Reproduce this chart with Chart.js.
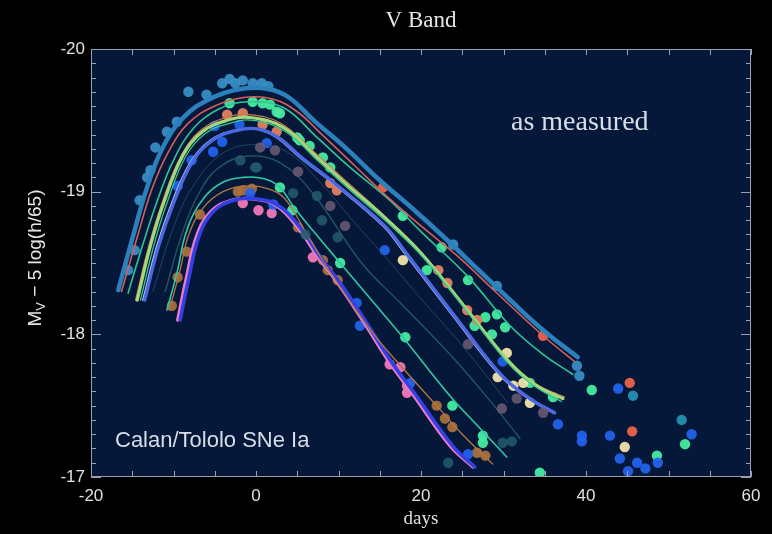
<!DOCTYPE html>
<html>
<head>
<meta charset="utf-8">
<title>V Band</title>
<script src="https://cdn.jsdelivr.net/npm/chart.js@4.4.1/dist/chart.umd.min.js"></script>
<style>
    html, body { margin: 0; padding: 0; background: #000; }
    canvas { display: block; }
</style>
</head>
<body>
<canvas id="lightCurves" width="772" height="534"></canvas>
<script>
// --- Axis ticks ---
const xTicks = [-20, 0, 20, 40, 60];
const yTicks = [-20, -19, -18, -17];

// --- Template curves (days since max, magnitude) ---
const blueDays = [-16.7, -14.9, -13.2, -11.3, -8.8, -5.6, -1.9, 1.5, 4, 7, 11, 15, 19, 23, 27, 31, 35, 39];
const blueMags = [-18.31, -18.69, -19.03, -19.31, -19.52, -19.65, -19.72, -19.72, -19.66, -19.50, -19.30, -19.08, -18.88, -18.67, -18.45, -18.23, -18.02, -17.84];

const redDays = [-16.3, -14.3, -12.6, -10.6, -8.2, -5, -1.5, 2, 5, 8, 12, 16, 20, 24.4, 29, 34.8, 38.6];
const redMags = [-18.30, -18.70, -19.02, -19.28, -19.48, -19.60, -19.66, -19.65, -19.56, -19.40, -19.18, -18.96, -18.76, -18.55, -18.30, -17.99, -17.81];

const tealDays = [-15.5, -13.6, -12.0, -10, -7.5, -4.5, -1, 3.3, 7.4, 11.4, 16.2, 20, 25.6, 30.8, 35, 38.4];
const tealMags = [-18.29, -18.65, -18.93, -19.22, -19.45, -19.58, -19.63, -19.59, -19.38, -19.17, -18.94, -18.72, -18.41, -18.06, -17.85, -17.72];

const limeDays = [-14.4, -12.8, -11.2, -8.9, -6.5, -3.5, -0.7, 3.3, 7.4, 11.4, 15.4, 20, 25.6, 30.8, 34, 37.2];
const limeMags = [-18.24, -18.62, -18.92, -19.25, -19.42, -19.50, -19.52, -19.45, -19.24, -19.03, -18.83, -18.57, -18.17, -17.80, -17.64, -17.55];

const orangeDays = [-14.6, -13, -11.4, -9.1, -6.7, -3.7, -0.9, 3, 7, 11, 15, 19.5, 25, 30.5, 34, 37.4];
const orangeMags = [-18.24, -18.62, -18.92, -19.25, -19.43, -19.52, -19.54, -19.48, -19.28, -19.07, -18.86, -18.60, -18.21, -17.82, -17.65, -17.56];

const mintDays = [-14, -12.4, -10.8, -8.5, -6.1, -3.1, -0.3, 3.6, 7.8, 11.8, 15.8, 20.4, 26, 31, 34.2, 37];
const mintMags = [-18.24, -18.62, -18.92, -19.25, -19.41, -19.48, -19.50, -19.42, -19.20, -18.99, -18.79, -18.53, -18.13, -17.77, -17.62, -17.53];

const lavenderDays = [-13.7, -12, -10.2, -8, -5.5, -2.5, 0, 2.5, 5.3, 9.3, 15.4, 18, 24, 29.6, 33, 36];
const lavenderMags = [-18.24, -18.62, -18.92, -19.20, -19.36, -19.43, -19.44, -19.38, -19.24, -19.06, -18.76, -18.57, -18.12, -17.71, -17.55, -17.45];

const faintDays = [-11, -9, -7, -4.5, -1, 3, 7, 12.8, 17.5, 23.5, 28, 32];
const faintMags = [-18.30, -18.70, -18.98, -19.17, -19.25, -19.20, -18.98, -18.50, -18.22, -17.86, -17.56, -17.27];

const faint2Days = [-12.5, -10, -7.5, -4, 0, 4, 8, 12, 16, 20, 25, 30.5];
const faint2Mags = [-18.30, -18.75, -19.05, -19.27, -19.33, -19.27, -19.05, -18.78, -18.52, -18.25, -17.92, -17.52];

const lowTealDays = [-10.8, -9.5, -8.6, -7, -4.5, -1.5, 1, 2.9, 4.5, 7, 10.2, 14, 17.8, 23.5, 27, 30.4];
const lowTealMags = [-18.17, -18.45, -18.69, -18.90, -19.05, -19.10, -19.09, -19.03, -18.90, -18.72, -18.50, -18.24, -17.98, -17.57, -17.35, -17.14];

const brownDays = [-10.5, -9.2, -8.2, -6.5, -4, -1, 1.5, 3.5, 6, 8.6, 14, 18, 21.9, 25, 28.7];
const brownMags = [-18.17, -18.45, -18.69, -18.88, -19.00, -19.04, -19.02, -18.95, -18.72, -18.47, -18.02, -17.75, -17.50, -17.30, -17.09];

const pinkDays = [-9.5, -8.5, -7.2, -5.5, -3, -0.5, 2.5, 5.3, 7.4, 10, 13, 16.2, 19, 23.5, 26.3];
const pinkMags = [-18.10, -18.38, -18.69, -18.86, -18.94, -18.95, -18.90, -18.73, -18.55, -18.35, -18.09, -17.80, -17.58, -17.22, -17.07];

const pinkEdgeDays = [-9.2, -8.2, -6.9, -5.2, -2.7, -0.2, 2.8, 5.6, 7.7, 10.3, 13.3, 16.5, 19.3, 23.8, 26.5];
const pinkEdgeMags = [-18.10, -18.38, -18.69, -18.86, -18.94, -18.95, -18.90, -18.73, -18.55, -18.35, -18.09, -17.80, -17.58, -17.22, -17.07];

// --- Photometry points [day, mag] ---
const steelDots = [[-15.5, -18.45], [-14.7, -18.59], [-14.1, -18.94], [-13.2, -19.10], [-12.8, -19.15], [-12.2, -19.31],
    [-10.8, -19.42], [-9.6, -19.49], [-8.2, -19.70], [-6, -19.68], [-4.1, -19.76], [-3.2, -19.79], [-2.5, -19.76],
    [-1.6, -19.78], [-0.4, -19.76], [0.7, -19.76], [1.5, -19.74], [23.9, -18.63], [29.2, -18.34], [38.9, -17.78], [39.2, -17.71]];
const cyanDots = [[45.7, -17.57], [51.6, -17.40]];
const redDots = [[15.4, -19.03], [34.8, -17.99], [45.3, -17.66], [45.6, -17.32]];
const salmonDots = [[-3.5, -19.54], [-1.6, -19.55], [0.8, -19.47], [2.5, -19.42], [9.0, -19.06], [9.8, -19.01],
    [22.1, -18.45], [23.2, -18.36], [25.6, -18.17], [26.8, -18.10]];
const greenDots = [[-3.2, -19.62], [-0.4, -19.63], [0.8, -19.62], [1.7, -19.61], [2.5, -19.56], [2.9, -19.55],
    [5.0, -19.38], [5.3, -19.36], [6.5, -19.32], [8.1, -19.24], [9.0, -19.17], [2.9, -19.03], [4.4, -18.87],
    [10.2, -18.50], [17.8, -18.83], [20.7, -18.45], [22.5, -18.61], [25.7, -18.38], [26.5, -18.06], [27.8, -18.12],
    [28.6, -18.00], [29.2, -18.14], [30.2, -18.05], [18.1, -17.98], [23.8, -17.50], [27.5, -17.29], [27.5, -17.24],
    [33.2, -17.66], [36, -17.56], [34.4, -17.03], [40.7, -17.61], [48.6, -17.15], [52, -17.23]];
const creamDots = [[17.8, -18.52], [29.3, -17.70], [30.4, -17.87], [31.2, -17.64], [32.4, -17.66], [33.2, -17.52], [44.7, -17.21]];
const royalDots = [[-9.5, -19.04], [-7.8, -19.22], [-5.2, -19.28], [-5, -19.46], [-4.1, -19.35], [-2, -19.47],
    [-0.7, -18.99], [1.3, -19.34], [2.1, -18.91], [12.2, -18.22], [12.6, -18.06], [15.6, -18.59], [18.7, -17.66],
    [25.7, -17.16], [29.9, -17.81], [36.6, -17.37], [39.5, -17.29], [39.5, -17.25], [42.9, -17.29], [43.9, -17.62],
    [44.1, -17.13], [45.1, -17.04], [46.2, -17.10], [47.2, -17.06], [48.7, -17.10], [52.8, -17.30]];
const mauveDots = [[0.5, -19.31], [2.3, -19.29], [5.1, -19.14], [9.0, -18.90], [10.8, -18.76], [25.7, -17.93],
    [29.8, -17.48], [31.6, -17.55], [34.8, -17.45]];
const darkTealDots = [[-1.9, -19.22], [-0.1, -19.17], [0.1, -19.17], [4.5, -18.99], [6, -18.70], [7.4, -18.97],
    [8, -18.80], [9.9, -18.68], [23.3, -17.10], [29.9, -17.24], [31, -17.25]];
const pinkDots = [[-1.6, -18.92], [0.3, -18.87], [1.9, -18.85], [6.9, -18.54], [16.2, -17.79], [17.5, -17.77],
    [18.3, -17.64], [18.3, -17.59]];
const brownDots = [[-10.2, -18.20], [-9.5, -18.40], [-8.4, -18.58], [-6.8, -18.84], [-2.2, -19.00], [-1.6, -19.01],
    [-0.5, -19.02], [5.1, -18.75], [8.1, -18.52], [8.7, -18.45], [9.9, -18.38], [21.9, -17.50], [22.9, -17.41],
    [23.8, -17.35], [26.8, -17.17], [27.8, -17.15]];

// --- Dataset builders ---
function curve(days, mags, color, width) {
    return {
        type: 'line',
        data: days.map((d, i) => ({ x: d, y: mags[i] })),
        borderColor: color,
        borderWidth: width,
        pointRadius: 0,
        fill: false,
        tension: 0.4,
        borderCapStyle: 'round',
        borderJoinStyle: 'round'
    };
}

function dots(points, color, radius) {
    return {
        type: 'scatter',
        data: points.map(p => ({ x: p[0], y: p[1] })),
        backgroundColor: color,
        borderWidth: 0,
        pointRadius: radius || 5.2
    };
}

// --- Frame, ticks and labels ---
const framePlugin = {
    id: 'framePlugin',
    beforeDraw(chart) {
        const { ctx, chartArea: a } = chart;
        ctx.save();
        ctx.fillStyle = '#000';
        ctx.fillRect(0, 0, chart.width, chart.height);
        ctx.fillStyle = '#05183a';
        ctx.fillRect(a.left, a.top, a.right - a.left, a.bottom - a.top);
        ctx.restore();
    },
    afterDatasetsDraw(chart) {
        const { ctx, chartArea: a, scales } = chart;
        ctx.save();
        ctx.strokeStyle = '#9aa2b2';
        ctx.lineWidth = 1;
        ctx.beginPath();
        for (let v = -20; v <= 60; v += 5) {
            const px = Math.round(scales.x.getPixelForValue(v)) + 0.5;
            ctx.moveTo(px, a.bottom); ctx.lineTo(px, a.bottom - 6);
            ctx.moveTo(px, a.top); ctx.lineTo(px, a.top + 6);
        }
        for (let i = 0; i <= 30; i++) {
            const py = Math.round(scales.y.getPixelForValue(-20 + i / 10)) + 0.5;
            const len = i % 10 === 0 ? 10 : 5;
            ctx.moveTo(a.left, py); ctx.lineTo(a.left + len, py);
            ctx.moveTo(a.right, py); ctx.lineTo(a.right - len, py);
        }
        ctx.stroke();
        ctx.strokeRect(a.left + 0.5, a.top + 0.5, a.right - a.left - 1, a.bottom - a.top - 1);
        ctx.restore();
    },
    afterDraw(chart) {
        const { ctx, chartArea: a } = chart;
        ctx.save();
        ctx.fillStyle = '#e6e6e6';
        ctx.textBaseline = 'alphabetic';

        // Title
        ctx.textAlign = 'center';
        ctx.font = '23px "Liberation Serif"';
        ctx.fillText('V Band', (a.left + a.right) / 2, 27);

        // Annotations
        ctx.textAlign = 'left';
        ctx.fillStyle = '#d8dde6';
        ctx.font = '28px "Liberation Serif"';
        ctx.fillText('as measured', 511, 130);
        ctx.font = '22px "Liberation Sans"';
        ctx.fillText('Calan/Tololo SNe Ia', 115, 447);

        // Y axis title with subscript
        ctx.fillStyle = '#e6e6e6';
        ctx.translate(41, 258);
        ctx.rotate(-Math.PI / 2);
        const big = '19px "Liberation Sans"', small = '13px "Liberation Sans"';
        const rest = ' \u2212 5 log(h/65)';
        ctx.font = big; const wM = ctx.measureText('M').width; const wR = ctx.measureText(rest).width;
        ctx.font = small; const wV = ctx.measureText('V').width;
        let x0 = -(wM + wV + wR) / 2;
        ctx.font = big; ctx.fillText('M', x0, 0);
        ctx.font = small; ctx.fillText('V', x0 + wM, 4);
        ctx.font = big; ctx.fillText(rest, x0 + wM + wV, 0);
        ctx.restore();
    }
};

// --- Chart ---
const ctx = document.getElementById('lightCurves').getContext('2d');
new Chart(ctx, {
    data: {
        datasets: [
            dots(darkTealDots, 'rgba(36, 92, 108, 0.85)'),
            dots(mauveDots, 'rgba(110, 92, 118, 0.85)'),
            curve(faint2Days, faint2Mags, 'rgba(40, 80, 100, 0.8)', 1),
            curve(faintDays, faintMags, 'rgba(34, 96, 104, 0.9)', 1.3),
            curve(blueDays, blueMags, '#2c80bc', 4.5),
            curve(redDays, redMags, '#d65e5a', 1.6),
            curve(tealDays, tealMags, '#2fc596', 1.6),
            curve(mintDays, mintMags, '#37c890', 1.3),
            curve(limeDays, limeMags, '#a6d67a', 3.2),
            curve(orangeDays, orangeMags, '#c97a4e', 1.2),
            curve(lavenderDays.map(d => d + 0.2), lavenderMags, '#4a68e2', 3.4),
            curve(lavenderDays, lavenderMags, '#c4ccff', 1.8),
            curve(lowTealDays, lowTealMags, '#2fc8a2', 1.6),
            curve(brownDays, brownMags, '#b3773f', 1.3),
            curve(pinkEdgeDays, pinkEdgeMags, '#3340e6', 3.6),
            curve(pinkDays, pinkMags, '#f07ac6', 3.2),
            dots(steelDots, 'rgba(58, 144, 200, 0.92)'),
            dots(cyanDots, 'rgba(40, 148, 180, 0.92)'),
            dots(royalDots, 'rgba(36, 100, 240, 0.92)'),
            dots(brownDots, 'rgba(168, 112, 60, 0.95)'),
            dots(pinkDots, 'rgba(240, 120, 184, 0.95)'),
            dots(salmonDots, 'rgba(228, 128, 96, 0.95)'),
            dots(redDots, 'rgba(236, 98, 72, 0.95)'),
            dots(creamDots, 'rgba(240, 228, 168, 0.95)'),
            dots(greenDots, 'rgba(70, 236, 160, 0.95)')
        ]
    },
    options: {
        responsive: false,
        animation: false,
        layout: { padding: { top: 49, right: 21, left: 0, bottom: 0 } },
        plugins: { legend: { display: false }, tooltip: { enabled: false } },
        scales: {
            x: {
                type: 'linear', min: -20, max: 60,
                afterBuildTicks: s => { s.ticks = xTicks.map(v => ({ value: v })); },
                ticks: { color: '#e0e0e0', font: { family: 'Liberation Sans', size: 17 }, padding: 9 },
                grid: { display: false, drawTicks: false },
                border: { display: false },
                title: { display: true, text: 'days', color: '#e0e0e0', font: { family: 'Liberation Serif', size: 19 }, padding: { top: 0, bottom: 4 } },
                afterFit: s => { s.height = 57; }
            },
            y: {
                type: 'linear', min: -20, max: -17, reverse: true,
                afterBuildTicks: s => { s.ticks = yTicks.map(v => ({ value: v })); },
                ticks: { color: '#e0e0e0', font: { family: 'Liberation Sans', size: 17 }, padding: 6 },
                grid: { display: false, drawTicks: false },
                border: { display: false },
                afterFit: s => { s.width = 91; }
            }
        }
    },
    plugins: [framePlugin]
});
</script>
</body>
</html>
